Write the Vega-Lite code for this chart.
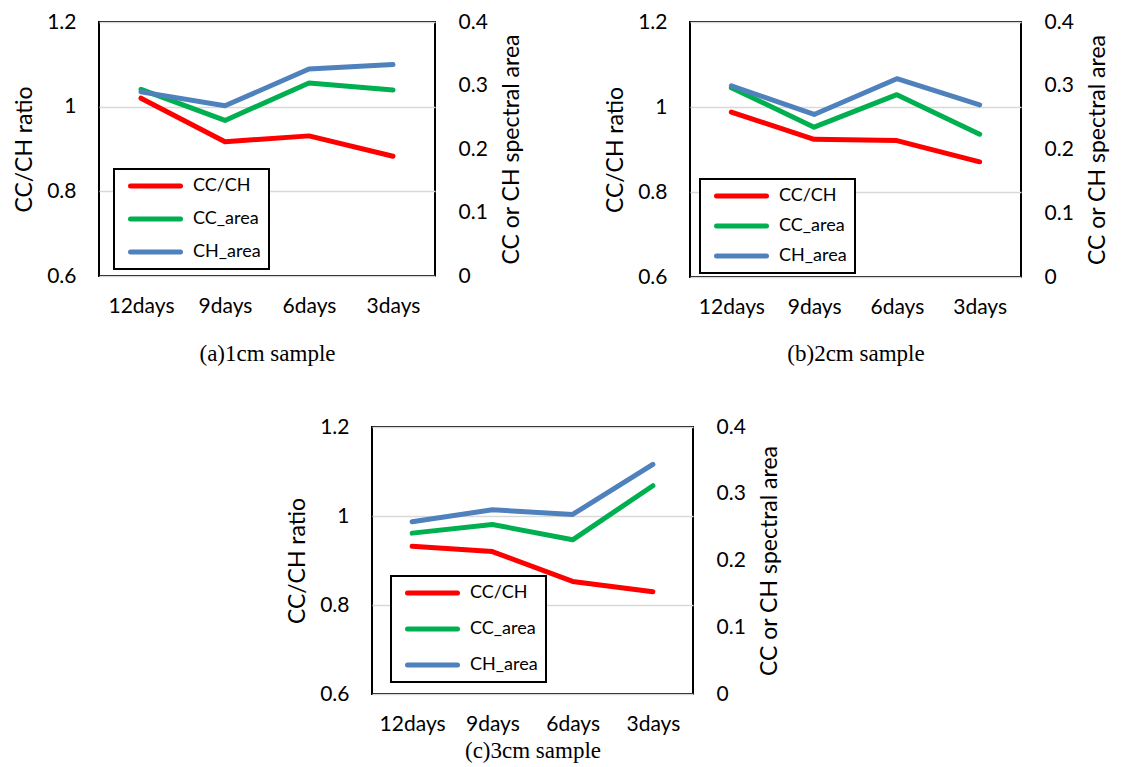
{
  "$schema": "https://vega.github.io/schema/vega-lite/v6.json",
  "background": "white",
  "padding": {"left": 12, "top": 10, "right": 0, "bottom": 0},
  "config": {
    "view": {"stroke": "black", "strokeWidth": 2},
    "font": "Lato",
    "axis": {"labelFont": "Lato", "labelColor": "black", "titleColor": "black", "titleFont": "Lato", "titleFontWeight": "normal"}
  },
  "data": {"values": [
    {"panel": "a", "day": "12days", "series": "CC/CH", "value": 1.020},
    {"panel": "a", "day": "9days", "series": "CC/CH", "value": 0.917},
    {"panel": "a", "day": "6days", "series": "CC/CH", "value": 0.931},
    {"panel": "a", "day": "3days", "series": "CC/CH", "value": 0.883},
    {"panel": "a", "day": "12days", "series": "CC_area", "value": 0.294},
    {"panel": "a", "day": "9days", "series": "CC_area", "value": 0.245},
    {"panel": "a", "day": "6days", "series": "CC_area", "value": 0.304},
    {"panel": "a", "day": "3days", "series": "CC_area", "value": 0.293},
    {"panel": "a", "day": "12days", "series": "CH_area", "value": 0.290},
    {"panel": "a", "day": "9days", "series": "CH_area", "value": 0.268},
    {"panel": "a", "day": "6days", "series": "CH_area", "value": 0.326},
    {"panel": "a", "day": "3days", "series": "CH_area", "value": 0.333},
    {"panel": "b", "day": "12days", "series": "CC/CH", "value": 0.988},
    {"panel": "b", "day": "9days", "series": "CC/CH", "value": 0.924},
    {"panel": "b", "day": "6days", "series": "CC/CH", "value": 0.921},
    {"panel": "b", "day": "3days", "series": "CC/CH", "value": 0.871},
    {"panel": "b", "day": "12days", "series": "CC_area", "value": 0.297},
    {"panel": "b", "day": "9days", "series": "CC_area", "value": 0.235},
    {"panel": "b", "day": "6days", "series": "CC_area", "value": 0.286},
    {"panel": "b", "day": "3days", "series": "CC_area", "value": 0.224},
    {"panel": "b", "day": "12days", "series": "CH_area", "value": 0.300},
    {"panel": "b", "day": "9days", "series": "CH_area", "value": 0.255},
    {"panel": "b", "day": "6days", "series": "CH_area", "value": 0.311},
    {"panel": "b", "day": "3days", "series": "CH_area", "value": 0.270},
    {"panel": "c", "day": "12days", "series": "CC/CH", "value": 0.932},
    {"panel": "c", "day": "9days", "series": "CC/CH", "value": 0.920},
    {"panel": "c", "day": "6days", "series": "CC/CH", "value": 0.853},
    {"panel": "c", "day": "3days", "series": "CC/CH", "value": 0.830},
    {"panel": "c", "day": "12days", "series": "CC_area", "value": 0.241},
    {"panel": "c", "day": "9days", "series": "CC_area", "value": 0.254},
    {"panel": "c", "day": "6days", "series": "CC_area", "value": 0.231},
    {"panel": "c", "day": "3days", "series": "CC_area", "value": 0.312},
    {"panel": "c", "day": "12days", "series": "CH_area", "value": 0.258},
    {"panel": "c", "day": "9days", "series": "CH_area", "value": 0.276},
    {"panel": "c", "day": "6days", "series": "CH_area", "value": 0.269},
    {"panel": "c", "day": "3days", "series": "CH_area", "value": 0.344}
  ]},
  "vconcat": [
    {
      "hconcat": [
        {
          "width": 336, "height": 254,
          "transform": [{"filter": "datum.panel == 'a'"}],
          "encoding": {"x": {"field": "day", "type": "nominal", "sort": ["12days", "9days", "6days", "3days"], "scale": {"padding": 0.5},
            "axis": {"title": "(a)1cm sample", "titleFont": "Liberation Serif", "titleFontSize": 23, "titlePadding": 26, "labelAngle": 0, "ticks": false, "domain": false, "labelPadding": 19, "labelFontSize": 21, "grid": false}}},
          "layer": [
            {"transform": [{"filter": "datum.series == 'CC/CH'"}],
             "mark": {"type": "line", "strokeWidth": 5, "strokeCap": "round", "strokeJoin": "round"},
             "encoding": {
               "y": {"field": "value", "type": "quantitative", "scale": {"domain": [0.6, 1.2], "zero": false, "nice": false},
                 "axis": {"orient": "left", "title": "CC/CH ratio", "titleFontSize": 23, "titlePadding": 10, "values": [0.6, 0.8, 1, 1.2], "format": "~g", "grid": true, "gridColor": "#d9d9d9", "gridWidth": 1.5, "ticks": false, "domain": false, "labelPadding": 23, "labelFontSize": 21}},
               "color": {"field": "series", "type": "nominal", "scale": {"domain": ["CC/CH", "CC_area", "CH_area"], "range": ["#ff0000", "#00b050", "#4f81bd"]},
                 "legend": {"orient": "none", "legendX": 15, "legendY": 147, "title": null, "strokeColor": "black", "fillColor": "white", "padding": 8, "clipHeight": 18, "symbolOffset": 6, "labelOffset": 10, "rowPadding": 15, "symbolType": "stroke", "symbolSize": 2500, "symbolStrokeWidth": 5, "labelFontSize": 18, "labelFont": "Lato", "labelColor": "black", "encode": {"legend": {"update": {"strokeWidth": {"value": 2}}}, "symbols": {"update": {"strokeCap": {"value": "round"}}}}}}
             }},
            {"transform": [{"filter": "datum.series != 'CC/CH'"}],
             "mark": {"type": "line", "strokeWidth": 5, "strokeCap": "round", "strokeJoin": "round"},
             "encoding": {
               "y": {"field": "value", "type": "quantitative", "scale": {"domain": [0, 0.4], "nice": false},
                 "axis": {"orient": "right", "title": "CC or CH spectral area", "titleFontSize": 23, "titleAngle": 270, "titleBaseline": "top", "titlePadding": 13, "values": [0, 0.1, 0.2, 0.3, 0.4], "format": "~g", "grid": false, "ticks": false, "domain": false, "labelPadding": 23, "labelFontSize": 21}},
               "color": {"field": "series", "type": "nominal", "scale": {"domain": ["CC/CH", "CC_area", "CH_area"], "range": ["#ff0000", "#00b050", "#4f81bd"]},
                 "legend": {"orient": "none", "legendX": 15, "legendY": 147, "title": null, "strokeColor": "black", "fillColor": "white", "padding": 8, "clipHeight": 18, "symbolOffset": 6, "labelOffset": 10, "rowPadding": 15, "symbolType": "stroke", "symbolSize": 2500, "symbolStrokeWidth": 5, "labelFontSize": 18, "labelFont": "Lato", "labelColor": "black", "encode": {"legend": {"update": {"strokeWidth": {"value": 2}}}, "symbols": {"update": {"strokeCap": {"value": "round"}}}}}}
             }}
          ],
          "resolve": {"scale": {"y": "independent"}}
        },
        {
          "width": 331, "height": 255,
          "transform": [{"filter": "datum.panel == 'b'"}],
          "encoding": {"x": {"field": "day", "type": "nominal", "sort": ["12days", "9days", "6days", "3days"], "scale": {"padding": 0.5},
            "axis": {"title": "(b)2cm sample", "titleFont": "Liberation Serif", "titleFontSize": 23, "titlePadding": 25, "labelAngle": 0, "ticks": false, "domain": false, "labelPadding": 19, "labelFontSize": 21, "grid": false}}},
          "layer": [
            {"transform": [{"filter": "datum.series == 'CC/CH'"}],
             "mark": {"type": "line", "strokeWidth": 5, "strokeCap": "round", "strokeJoin": "round"},
             "encoding": {
               "y": {"field": "value", "type": "quantitative", "scale": {"domain": [0.6, 1.2], "zero": false, "nice": false},
                 "axis": {"orient": "left", "title": "CC/CH ratio", "titleFontSize": 23, "titlePadding": 10, "values": [0.6, 0.8, 1, 1.2], "format": "~g", "grid": true, "gridColor": "#d9d9d9", "gridWidth": 1.5, "ticks": false, "domain": false, "labelPadding": 23, "labelFontSize": 21}},
               "color": {"field": "series", "type": "nominal", "scale": {"domain": ["CC/CH", "CC_area", "CH_area"], "range": ["#ff0000", "#00b050", "#4f81bd"]},
                 "legend": {"orient": "none", "legendX": 10, "legendY": 157, "title": null, "strokeColor": "black", "fillColor": "white", "padding": 8, "clipHeight": 18, "symbolOffset": 6, "labelOffset": 10, "rowPadding": 12, "symbolType": "stroke", "symbolSize": 2500, "symbolStrokeWidth": 5, "labelFontSize": 18, "labelFont": "Lato", "labelColor": "black", "encode": {"legend": {"update": {"strokeWidth": {"value": 2}}}, "symbols": {"update": {"strokeCap": {"value": "round"}}}}}}
             }},
            {"transform": [{"filter": "datum.series != 'CC/CH'"}],
             "mark": {"type": "line", "strokeWidth": 5, "strokeCap": "round", "strokeJoin": "round"},
             "encoding": {
               "y": {"field": "value", "type": "quantitative", "scale": {"domain": [0, 0.4], "nice": false},
                 "axis": {"orient": "right", "title": "CC or CH spectral area", "titleFontSize": 23, "titleAngle": 270, "titleBaseline": "top", "titlePadding": 13, "values": [0, 0.1, 0.2, 0.3, 0.4], "format": "~g", "grid": false, "ticks": false, "domain": false, "labelPadding": 23, "labelFontSize": 21}},
               "color": {"field": "series", "type": "nominal", "scale": {"domain": ["CC/CH", "CC_area", "CH_area"], "range": ["#ff0000", "#00b050", "#4f81bd"]},
                 "legend": {"orient": "none", "legendX": 10, "legendY": 157, "title": null, "strokeColor": "black", "fillColor": "white", "padding": 8, "clipHeight": 18, "symbolOffset": 6, "labelOffset": 10, "rowPadding": 12, "symbolType": "stroke", "symbolSize": 2500, "symbolStrokeWidth": 5, "labelFontSize": 18, "labelFont": "Lato", "labelColor": "black", "encode": {"legend": {"update": {"strokeWidth": {"value": 2}}}, "symbols": {"update": {"strokeCap": {"value": "round"}}}}}}
             }}
          ],
          "resolve": {"scale": {"y": "independent"}}
        }
      ],
      "spacing": 78,
      "resolve": {"scale": {"color": "independent"}, "legend": {"color": "independent"}}
    },
    {
      "hconcat": [
        {
          "width": 186, "height": 10,
          "view": {"stroke": null},
          "transform": [{"filter": "false"}],
          "mark": "point"
        },
        {
          "width": 321, "height": 267,
          "transform": [{"filter": "datum.panel == 'c'"}],
          "encoding": {"x": {"field": "day", "type": "nominal", "sort": ["12days", "9days", "6days", "3days"], "scale": {"padding": 0.5},
            "axis": {"title": "(c)3cm sample", "titleFont": "Liberation Serif", "titleFontSize": 23, "titlePadding": 5, "labelAngle": 0, "ticks": false, "domain": false, "labelPadding": 19, "labelFontSize": 21, "grid": false}}},
          "layer": [
            {"transform": [{"filter": "datum.series == 'CC/CH'"}],
             "mark": {"type": "line", "strokeWidth": 5, "strokeCap": "round", "strokeJoin": "round"},
             "encoding": {
               "y": {"field": "value", "type": "quantitative", "scale": {"domain": [0.6, 1.2], "zero": false, "nice": false},
                 "axis": {"orient": "left", "title": "CC/CH ratio", "titleFontSize": 23, "titlePadding": 10, "values": [0.6, 0.8, 1, 1.2], "format": "~g", "grid": true, "gridColor": "#d9d9d9", "gridWidth": 1.5, "ticks": false, "domain": false, "labelPadding": 23, "labelFontSize": 21}},
               "color": {"field": "series", "type": "nominal", "scale": {"domain": ["CC/CH", "CC_area", "CH_area"], "range": ["#ff0000", "#00b050", "#4f81bd"]},
                 "legend": {"orient": "none", "legendX": 19, "legendY": 149, "title": null, "strokeColor": "black", "fillColor": "white", "padding": 8, "clipHeight": 18, "symbolOffset": 6, "labelOffset": 10, "rowPadding": 18, "symbolType": "stroke", "symbolSize": 2500, "symbolStrokeWidth": 5, "labelFontSize": 18, "labelFont": "Lato", "labelColor": "black", "encode": {"legend": {"update": {"strokeWidth": {"value": 2}}}, "symbols": {"update": {"strokeCap": {"value": "round"}}}}}}
             }},
            {"transform": [{"filter": "datum.series != 'CC/CH'"}],
             "mark": {"type": "line", "strokeWidth": 5, "strokeCap": "round", "strokeJoin": "round"},
             "encoding": {
               "y": {"field": "value", "type": "quantitative", "scale": {"domain": [0, 0.4], "nice": false},
                 "axis": {"orient": "right", "title": "CC or CH spectral area", "titleFontSize": 23, "titleAngle": 270, "titleBaseline": "top", "titlePadding": 13, "values": [0, 0.1, 0.2, 0.3, 0.4], "format": "~g", "grid": false, "ticks": false, "domain": false, "labelPadding": 23, "labelFontSize": 21}},
               "color": {"field": "series", "type": "nominal", "scale": {"domain": ["CC/CH", "CC_area", "CH_area"], "range": ["#ff0000", "#00b050", "#4f81bd"]},
                 "legend": {"orient": "none", "legendX": 19, "legendY": 149, "title": null, "strokeColor": "black", "fillColor": "white", "padding": 8, "clipHeight": 18, "symbolOffset": 6, "labelOffset": 10, "rowPadding": 18, "symbolType": "stroke", "symbolSize": 2500, "symbolStrokeWidth": 5, "labelFontSize": 18, "labelFont": "Lato", "labelColor": "black", "encode": {"legend": {"update": {"strokeWidth": {"value": 2}}}, "symbols": {"update": {"strokeCap": {"value": "round"}}}}}}
             }}
          ],
          "resolve": {"scale": {"y": "independent"}}
        }
      ],
      "spacing": 0,
      "resolve": {"scale": {"color": "independent"}, "legend": {"color": "independent"}}
    }
  ],
  "spacing": 49,
  "resolve": {"scale": {"color": "independent"}, "legend": {"color": "independent"}}
}
